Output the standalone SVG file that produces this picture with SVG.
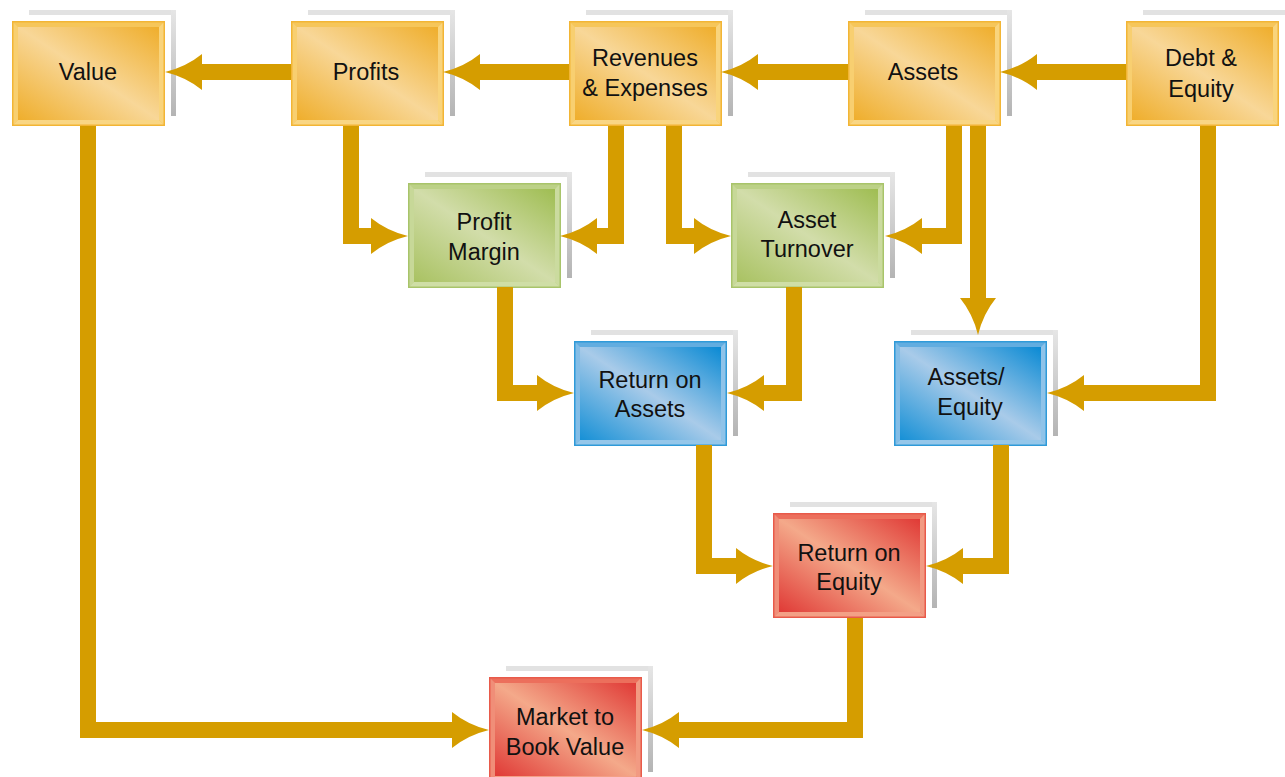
<svg xmlns="http://www.w3.org/2000/svg" xmlns:xlink="http://www.w3.org/1999/xlink" width="1285" height="777" viewBox="0 0 1285 777">
<style>
.lbl{font-family:"Liberation Sans",Arial,sans-serif;font-size:23.5px;fill:#111;text-anchor:middle}
.conn{fill:none;stroke:#d59d00;stroke-width:16;stroke-linejoin:miter;stroke-linecap:butt}
</style>
<defs>
<linearGradient id="gO" x1="0" y1="1" x2="1" y2="0"><stop offset="0" stop-color="#efae2c"/><stop offset="0.5" stop-color="#f8d798"/><stop offset="1" stop-color="#efae2c"/></linearGradient>
<linearGradient id="gG" x1="0" y1="1" x2="1" y2="0"><stop offset="0" stop-color="#a9c262"/><stop offset="0.5" stop-color="#d2ddaa"/><stop offset="1" stop-color="#9fbd52"/></linearGradient>
<linearGradient id="gB" x1="0" y1="1" x2="1" y2="0"><stop offset="0" stop-color="#1690d6"/><stop offset="0.5" stop-color="#a9cbe9"/><stop offset="1" stop-color="#0a8ad4"/></linearGradient>
<linearGradient id="gR" x1="0" y1="1" x2="1" y2="0"><stop offset="0" stop-color="#e03a36"/><stop offset="0.5" stop-color="#f4a98a"/><stop offset="1" stop-color="#e03a36"/></linearGradient>
<linearGradient id="gS" x1="0" y1="0" x2="0" y2="1"><stop offset="0" stop-color="#e6e6e6"/><stop offset="1" stop-color="#b4b4b4"/></linearGradient>
<symbol id="sheet" viewBox="0 0 147 106" width="147" height="106" overflow="visible">
<rect x="0" y="0" width="147" height="5" fill="#e2e2e2"/>
<rect x="142" y="0" width="5" height="106" fill="url(#gS)"/>
</symbol>
<symbol id="bO" viewBox="0 0 153 105" width="153" height="105">
<rect x="0" y="0" width="153" height="105" fill="#f5bf4c"/>
<polygon points="0,0 153,0 147,6 6,6" fill="#f6c65a"/>
<polygon points="0,0 6,6 6,99 0,105" fill="#f8cf70"/>
<polygon points="153,0 153,105 147,99 147,6" fill="#f9d47c"/>
<polygon points="0,105 153,105 147,99 6,99" fill="#f9d684"/>
<rect x="6" y="6" width="141" height="93" fill="url(#gO)"/>
<rect x="0.75" y="0.75" width="151.5" height="103.5" fill="none" stroke="#f2b535" stroke-width="1.5"/>
</symbol>
<symbol id="bG" viewBox="0 0 153 105" width="153" height="105">
<rect x="0" y="0" width="153" height="105" fill="#b8cf80"/>
<polygon points="0,0 153,0 147,6 6,6" fill="#bcd187"/>
<polygon points="0,0 6,6 6,99 0,105" fill="#c7d898"/>
<polygon points="153,0 153,105 147,99 147,6" fill="#cbdb9f"/>
<polygon points="0,105 153,105 147,99 6,99" fill="#cfdea6"/>
<rect x="6" y="6" width="141" height="93" fill="url(#gG)"/>
<rect x="0.75" y="0.75" width="151.5" height="103.5" fill="none" stroke="#a8c46a" stroke-width="1.5"/>
</symbol>
<symbol id="bB" viewBox="0 0 153 105" width="153" height="105">
<rect x="0" y="0" width="153" height="105" fill="#5eabe0"/>
<polygon points="0,0 153,0 147,6 6,6" fill="#62ade0"/>
<polygon points="0,0 6,6 6,99 0,105" fill="#84bde6"/>
<polygon points="153,0 153,105 147,99 147,6" fill="#8fc3e9"/>
<polygon points="0,105 153,105 147,99 6,99" fill="#95c7ea"/>
<rect x="6" y="6" width="141" height="93" fill="url(#gB)"/>
<rect x="0.75" y="0.75" width="151.5" height="103.5" fill="none" stroke="#2f9ad8" stroke-width="1.5"/>
</symbol>
<symbol id="bR" viewBox="0 0 153 105" width="153" height="105">
<rect x="0" y="0" width="153" height="105" fill="#ec7763"/>
<polygon points="0,0 153,0 147,6 6,6" fill="#ec6f5c"/>
<polygon points="0,0 6,6 6,99 0,105" fill="#f08e78"/>
<polygon points="153,0 153,105 147,99 147,6" fill="#f29a82"/>
<polygon points="0,105 153,105 147,99 6,99" fill="#f3a086"/>
<rect x="6" y="6" width="141" height="93" fill="url(#gR)"/>
<rect x="0.75" y="0.75" width="151.5" height="103.5" fill="none" stroke="#e85a4a" stroke-width="1.5"/>
</symbol>
<marker id="arr" viewBox="0 -18 37 36" refX="0" refY="0" markerWidth="37" markerHeight="36" markerUnits="userSpaceOnUse" orient="auto" overflow="visible">
<path d="M0,-18 L0,18 Q16,5 37,0 Q16,-5 0,-18 Z" fill="#d59d00"/>
</marker>
</defs>
<rect width="1285" height="777" fill="#ffffff"/>

<g id="node-value"><use xlink:href="#sheet" href="#sheet" x="29" y="10"/><use xlink:href="#bO" href="#bO" x="12" y="21"/><text class="lbl" x="88" y="80">Value</text></g>
<g id="node-profits"><use xlink:href="#sheet" href="#sheet" x="308" y="10"/><use xlink:href="#bO" href="#bO" x="291" y="21"/><text class="lbl" x="366" y="80">Profits</text></g>
<g id="node-revenues"><use xlink:href="#sheet" href="#sheet" x="586" y="10"/><use xlink:href="#bO" href="#bO" x="569" y="21"/><text class="lbl" x="645" y="66">Revenues</text><text class="lbl" x="645" y="96">&amp; Expenses</text></g>
<g id="node-assets"><use xlink:href="#sheet" href="#sheet" x="865" y="10"/><use xlink:href="#bO" href="#bO" x="848" y="21"/><text class="lbl" x="923" y="80">Assets</text></g>
<g id="node-debt"><use xlink:href="#sheet" href="#sheet" x="1143" y="10"/><use xlink:href="#bO" href="#bO" x="1126" y="21"/><text class="lbl" x="1201" y="66">Debt &amp;</text><text class="lbl" x="1201" y="97">Equity</text></g>
<g id="node-profit-margin"><use xlink:href="#sheet" href="#sheet" x="425" y="172"/><use xlink:href="#bG" href="#bG" x="408" y="183"/><text class="lbl" x="484" y="230">Profit</text><text class="lbl" x="484" y="260">Margin</text></g>
<g id="node-asset-turnover"><use xlink:href="#sheet" href="#sheet" x="748" y="172"/><use xlink:href="#bG" href="#bG" x="731" y="183"/><text class="lbl" x="807" y="228">Asset</text><text class="lbl" x="807" y="257">Turnover</text></g>
<g id="node-roa"><use xlink:href="#sheet" href="#sheet" x="591" y="330"/><use xlink:href="#bB" href="#bB" x="574" y="341"/><text class="lbl" x="650" y="388">Return on</text><text class="lbl" x="650" y="417">Assets</text></g>
<g id="node-assets-equity"><use xlink:href="#sheet" href="#sheet" x="911" y="330"/><use xlink:href="#bB" href="#bB" x="894" y="341"/><text class="lbl" x="966" y="385">Assets/</text><text class="lbl" x="970" y="415">Equity</text></g>
<g id="node-roe"><use xlink:href="#sheet" href="#sheet" x="790" y="502"/><use xlink:href="#bR" href="#bR" x="773" y="513"/><text class="lbl" x="849" y="561">Return on</text><text class="lbl" x="849" y="590">Equity</text></g>
<g id="node-mtb"><use xlink:href="#sheet" href="#sheet" x="506" y="666"/><use xlink:href="#bR" href="#bR" x="489" y="677"/><text class="lbl" x="565" y="725">Market to</text><text class="lbl" x="565" y="755">Book Value</text></g>

<g id="connectors">
<path class="conn" marker-end="url(#arr)" d="M291,72 H202"/>
<path class="conn" marker-end="url(#arr)" d="M569,72 H480"/>
<path class="conn" marker-end="url(#arr)" d="M848,72 H758"/>
<path class="conn" marker-end="url(#arr)" d="M1126,72 H1037"/>
<path class="conn" marker-end="url(#arr)" d="M88,126 V730 H452"/>
<path class="conn" marker-end="url(#arr)" d="M351,126 V236 H371"/>
<path class="conn" marker-end="url(#arr)" d="M616,126 V236 H597"/>
<path class="conn" marker-end="url(#arr)" d="M674,126 V236 H694"/>
<path class="conn" marker-end="url(#arr)" d="M954,126 V236 H922"/>
<path class="conn" marker-end="url(#arr)" d="M978,126 V298"/>
<path class="conn" marker-end="url(#arr)" d="M1208,126 V393 H1084"/>
<path class="conn" marker-end="url(#arr)" d="M505,287 V393 H537"/>
<path class="conn" marker-end="url(#arr)" d="M794,287 V393 H764"/>
<path class="conn" marker-end="url(#arr)" d="M704,445 V566 H736"/>
<path class="conn" marker-end="url(#arr)" d="M1001,445 V566 H963"/>
<path class="conn" marker-end="url(#arr)" d="M855,618 V730 H679"/>
</g>
</svg>
